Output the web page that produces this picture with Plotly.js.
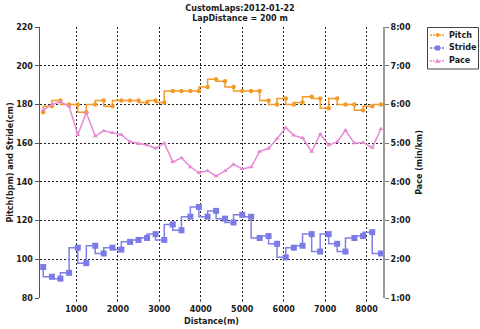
<!DOCTYPE html>
<html>
<head>
<meta charset="utf-8">
<script src="https://cdn.plot.ly/plotly-3.0.1.min.js"></script>
<style>html,body{margin:0;padding:0;background:#fff;}#chart{width:480px;height:329px;}</style>
</head>
<body>
<div id="chart"></div>
<script>
// Lap end distances (m)
const distance = [200, 410, 615, 825, 1035, 1240, 1455, 1660, 1870, 2085,
  2295, 2500, 2705, 2910, 3120, 3325, 3535, 3750, 3955, 4165,
  4370, 4585, 4790, 5000, 5215, 5420, 5635, 5840, 6050, 6245,
  6455, 6675, 6880, 7085, 7290, 7490, 7705, 7915, 8135, 8345];
// Pitch (bpm)
const pitch = [176, 179, 182, 180, 180, 176, 180, 182, 179, 182,
  182, 182, 181, 182, 181, 187, 187, 187, 187, 189,
  193, 192, 189, 187, 187, 187, 182, 180, 183, 180,
  181, 184, 183, 178, 183, 180, 180, 177, 179, 180];
// Stride (cm)
const stride = [96, 91, 90, 93, 106, 98, 107, 103, 106, 105,
  109, 110, 111, 113, 110, 118, 115, 122, 127, 122,
  125, 121, 119, 123, 122, 111, 112, 108, 101, 106,
  107, 113, 104, 113, 108, 104, 111, 112, 114, 103];
// Pace (seconds per km)
const pace = [351, 360, 364, 357, 313, 347, 311, 319, 316, 313,
  302, 299, 297, 292, 300, 271, 277, 263, 254, 257,
  249, 257, 267, 260, 263, 287, 292, 307, 324, 312,
  308, 287, 314, 297, 302, 320, 300, 301, 293, 322];
// Right axis ticks
const paceTickVals = [60, 120, 180, 240, 300, 360, 420, 480];
const paceTickText = ["1:00", "2:00", "3:00", "4:00", "5:00", "6:00", "7:00", "8:00"];
const xTickVals = [1000, 2000, 3000, 4000, 5000, 6000, 7000, 8000];
const yTickVals = [80, 100, 120, 140, 160, 180, 200, 220];
const seriesNames = ["Pitch", "Stride", "Pace"];
const seriesColors = ["#F39A2B", "#7B7BE8", "#E68AD4"];

const FONT = "DejaVu Sans";
const W = 480, H = 329, ML = 40, MR = 97, MT = 27, MB = 31;
const PW = W - ML - MR, PH = H - MT - MB;
const px = v => (v - ML) / PW;          // pixel x -> paper x
const py = v => (H - MB - v) / PH;       // pixel y -> paper y

const traces = [
  {x: distance, y: pitch, name: seriesNames[0], type: "scatter", mode: "lines+markers",
   line: {shape: "vh", color: seriesColors[0], width: 1.5},
   marker: {symbol: "circle", size: 4.5, color: seriesColors[0]}},
  {x: distance, y: stride, name: seriesNames[1], type: "scatter", mode: "lines+markers",
   line: {shape: "vh", color: "#8080E8", width: 1.5},
   marker: {symbol: "square", size: 6, color: seriesColors[1]}},
  {x: distance, y: pace, name: seriesNames[2], type: "scatter", mode: "lines+markers", yaxis: "y2",
   line: {color: seriesColors[2], width: 1.5},
   marker: {symbol: "triangle-up", size: 4.5, color: seriesColors[2]}}
];

// Compact legend box drawn in paper coordinates
const shapes = [
  {type: "rect", xref: "paper", yref: "paper", x0: px(427.5), x1: px(478.5), y0: py(69), y1: py(27.5),
   line: {color: "#444", width: 1}, fillcolor: "rgba(0,0,0,0)", layer: "above"}
];
const annotations = [];
const itemY = [35, 48, 61];
seriesNames.forEach((n, i) => {
  const yy = itemY[i];
  shapes.push({type: "line", xref: "paper", yref: "paper", x0: px(430), x1: px(445), y0: py(yy), y1: py(yy),
               line: {color: seriesColors[i], width: 1.5, dash: "2px,1px"}});
  const cx = 437.5;
  if (i === 0) {
    shapes.push({type: "circle", xref: "paper", yref: "paper", x0: px(cx - 2), x1: px(cx + 2), y0: py(yy + 2), y1: py(yy - 2),
                 fillcolor: seriesColors[i], line: {width: 0}});
  } else if (i === 1) {
    shapes.push({type: "rect", xref: "paper", yref: "paper", x0: px(cx - 2.5), x1: px(cx + 2.5), y0: py(yy + 2.5), y1: py(yy - 2.5),
                 fillcolor: seriesColors[i], line: {width: 0}});
  } else {
    shapes.push({type: "path", xref: "paper", yref: "paper",
                 path: `M ${px(cx - 2.5)} ${py(yy + 2)} L ${px(cx + 2.5)} ${py(yy + 2)} L ${px(cx)} ${py(yy - 2.5)} Z`,
                 fillcolor: seriesColors[i], line: {width: 0}});
  }
  annotations.push({xref: "paper", yref: "paper", x: px(446.5), y: py(yy), xanchor: "left", yanchor: "middle",
                    text: n, showarrow: false, font: {family: FONT, size: 8, weight: "bold", color: "#1a1a1a"}});
});

const layout = {
  width: W, height: H,
  margin: {l: ML, r: MR, t: MT, b: MB, pad: 0},
  paper_bgcolor: "#fff", plot_bgcolor: "#fff",
  font: {family: FONT, size: 8, color: "#1a1a1a", weight: "bold"},
  title: {text: "CustomLaps:2012-01-22<br>LapDistance = 200 m", x: 0.5, xref: "container", xanchor: "center",
          y: 0.968, yref: "container", yanchor: "top",
          font: {family: FONT, size: 8, weight: "bold", color: "#1a1a1a"}},
  xaxis: {range: [123, 8395], tickvals: xTickVals, showgrid: true, gridcolor: "#222", gridwidth: 1,
          griddash: "2px,2px", zeroline: false, showline: false, ticks: "outside", ticklen: 3,
          tickcolor: "#555",
          title: {text: "Distance(m)", standoff: 5, font: {family: FONT, size: 8, weight: "bold"}}},
  yaxis: {range: [80, 220], tickvals: yTickVals, showgrid: true, gridcolor: "#222", gridwidth: 1,
          griddash: "2px,2px", zeroline: false, showline: true, linecolor: "#555", linewidth: 1.5,
          ticks: "outside", ticklen: 4, tickcolor: "#555",
          title: {text: "Pitch(bpm) and Stride(cm)", standoff: 1, font: {family: FONT, size: 8, weight: "bold"}}},
  yaxis2: {range: [60, 480], overlaying: "y", side: "right", tickvals: paceTickVals, ticktext: paceTickText,
           showgrid: false, zeroline: false, showline: true, linecolor: "#999", linewidth: 2,
           ticks: "outside", ticklen: 4, tickcolor: "#777",
           title: {text: "Pace (min/km)", standoff: 6, font: {family: FONT, size: 8, weight: "bold"}}},
  showlegend: false,
  shapes: shapes,
  annotations: annotations
};

Plotly.newPlot("chart", traces, layout, {displayModeBar: false, staticPlot: true});
</script>
</body>
</html>
